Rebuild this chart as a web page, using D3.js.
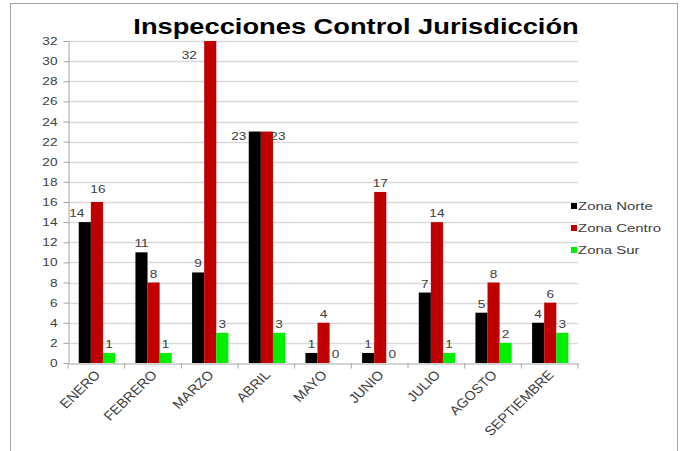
<!DOCTYPE html>
<html>
<head>
<meta charset="utf-8">
<script src="https://cdn.jsdelivr.net/npm/d3@7"></script>
<style>
	body { margin: 0; background: #fff; }
	svg { display: block; font-family: "Liberation Sans", Arial, sans-serif; }
</style>
</head>
<body>
<script>
'use strict';
(function() {
	//Data
	var months = ['ENERO','FEBRERO','MARZO','ABRIL','MAYO','JUNIO','JULIO','AGOSTO','SEPTIEMBRE'];
	var series = ['Zona Norte','Zona Centro','Zona Sur'];
	var norte  = [14, 11, 9, 23, 1, 1, 7, 5, 4];
	var centro = [16, 8, 32, 23, 4, 17, 14, 8, 6];
	var sur    = [1, 1, 3, 3, 0, 0, 1, 2, 3];
	var yTicks = d3.range(0, 33, 2);
	var colors = ['#000000', '#c00000', '#00ee00'];

	var values = [norte, centro, sur];

	//the source picture is stretched sideways, so text is too
	var SX = 1.24;

	var width = 685, height = 451;
	var plot = {left: 68, right: 578, top: 41, bottom: 363};

	var svg = d3.select('body').append('svg')
		.attr('width', width)
		.attr('height', height);

	//outer frame
	svg.append('rect')
		.attr('x', 10.5).attr('y', 3.5)
		.attr('width', 667).attr('height', 460)
		.attr('fill', '#fff')
		.attr('stroke', '#a6a6a6');

	//scales
	var x0 = d3.scaleBand().domain(months).range([plot.left, plot.right]).padding(0);
	var x1 = d3.scaleBand().domain(series)
		.range([x0.bandwidth()*0.19, x0.bandwidth()*0.83]).padding(0);
	var y = d3.scaleLinear().domain([0, 32]).range([plot.bottom, plot.top]);

	//gridlines
	svg.append('g').selectAll('line')
		.data(yTicks.filter(function(d){return d > 0;}))
		.enter().append('line')
			.attr('x1', plot.left).attr('x2', plot.right)
			.attr('y1', function(d){return Math.round(y(d))+0.5;})
			.attr('y2', function(d){return Math.round(y(d))+0.5;})
			.attr('stroke', '#d9d9d9')
			.attr('stroke-width', 1.5);

	//y axis
	var yAxis = svg.append('g')
		.attr('transform', 'translate(' + (plot.left+0.5) + ',0)')
		.call(d3.axisLeft(y).tickValues(yTicks).tickSize(5).tickSizeOuter(0));
	yAxis.select('.domain').attr('stroke', '#a6a6a6');
	yAxis.selectAll('.tick line').attr('stroke', '#a6a6a6');
	yAxis.selectAll('text')
		.attr('x', 0)
		.attr('transform', 'translate(-11,0) scale(' + SX + ',1)')
		.attr('fill', '#404040').style('font-size', '11px')
		.style('font-family', '"Liberation Sans", Arial, sans-serif');

	//x axis
	var xAxis = svg.append('g')
		.attr('transform', 'translate(0,' + (plot.bottom+0.5) + ')')
		.call(d3.axisBottom(x0).tickSize(0).tickPadding(0));
	xAxis.select('.domain').attr('stroke', '#a6a6a6');
	xAxis.selectAll('text').remove();
	//category boundary ticks
	xAxis.selectAll('line.sep')
		.data(d3.range(months.length+1))
		.enter().append('line')
			.attr('class', 'sep')
			.attr('x1', function(i){return plot.left + i*x0.step();})
			.attr('x2', function(i){return plot.left + i*x0.step();})
			.attr('y1', 0).attr('y2', 5)
			.attr('stroke', '#a6a6a6');
	//rotated month labels
	xAxis.selectAll('text.month')
		.data(months)
		.enter().append('text')
			.attr('class', 'month')
			.attr('text-anchor', 'end')
			.attr('fill', '#404040')
			.style('font-size', '13px')
			.attr('transform', function(d) {
				return 'translate(' + (x0(d)+x0.bandwidth()/2+5) + ',12) scale(1.12,1) rotate(-47)';
			})
			.text(function(d){return d;});

	//bars
	var groups = svg.append('g').selectAll('g.month')
		.data(months)
		.enter().append('g')
			.attr('class', 'month')
			.attr('transform', function(d){return 'translate(' + x0(d) + ',0)';});

	groups.selectAll('rect')
		.data(function(d, i) {
			return series.map(function(s, j){return {s: s, j: j, v: values[j][i]};});
		})
		.enter().append('rect')
			.attr('x', function(d){return x1(d.s);})
			.attr('width', x1.bandwidth())
			.attr('y', function(d){return y(d.v);})
			.attr('height', function(d){return y(0) - y(d.v);})
			.attr('fill', function(d){return colors[d.j];});

	//value labels
	groups.selectAll('text')
		.data(function(d, i) {
			return series.map(function(s, j){return {s: s, j: j, v: values[j][i], m: d};});
		})
		.enter().append('text')
			.attr('text-anchor', 'middle')
			.attr('fill', '#404040')
			.style('font-size', '11px')
			.attr('transform', function(d) {
				var cx = x1(d.s) + x1.bandwidth()/2;
				var ty = y(d.v) - 5;
				if (d.v >= 32) { cx -= 21; ty = y(d.v) + 18; }
				else if (d.m === 'ABRIL' && d.j === 0) { cx -= 16; ty = y(d.v) + 8; }
				else if (d.m === 'ABRIL' && d.j === 1) { cx += 11; ty = y(d.v) + 8; }
				else if (d.m === 'ENERO' && d.j === 0) { cx -= 8; }
				else if (d.m === 'ENERO' && d.j === 1) { cx += 1; ty -= 4; }
				return 'translate(' + cx + ',' + ty + ') scale(' + SX + ',1)';
			})
			.text(function(d){return d.v;});

	//title
	svg.append('text')
		.attr('transform', 'translate(356,34) scale(' + SX + ',1)')
		.attr('text-anchor', 'middle')
		.style('font-size', '22px')
		.style('font-weight', 'bold')
		.attr('fill', '#000')
		.text('Inspecciones Control Jurisdicción');

	//legend
	var legend = svg.append('g').selectAll('g.legend')
		.data(series)
		.enter().append('g')
			.attr('class', 'legend')
			.attr('transform', function(d, i){return 'translate(571,' + (206 + i*22) + ')';});
	legend.append('rect')
		.attr('x', 0).attr('y', -3)
		.attr('width', 6).attr('height', 6)
		.attr('fill', function(d, i){return colors[i];});
	legend.append('text')
		.attr('transform', 'translate(7,4) scale(1.3,1)')
		.attr('fill', '#404040')
		.style('font-size', '11.5px')
		.text(function(d){return d;});
})();
</script>
</body>
</html>
